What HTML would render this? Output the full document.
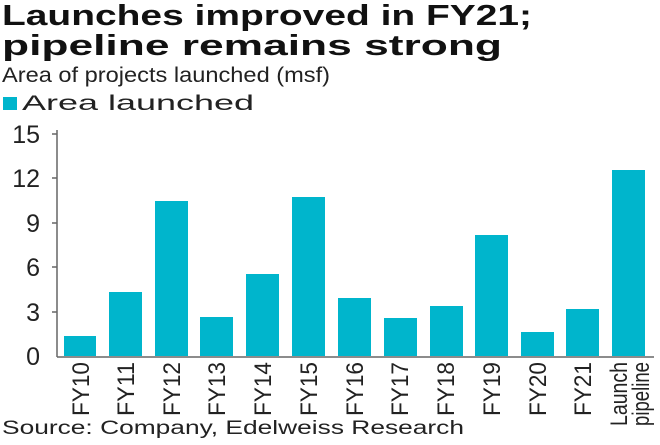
<!DOCTYPE html><html><head><style>
body{margin:0;background:#fff;width:660px;height:440px;overflow:hidden;font-family:"Liberation Sans",sans-serif;}
</style></head><body>
<svg width="660" height="440" xmlns="http://www.w3.org/2000/svg" font-family="Liberation Sans, sans-serif">
<text x="2" y="25" font-size="29" font-weight="bold" fill="#111" textLength="530" lengthAdjust="spacingAndGlyphs">Launches improved in FY21;</text>
<text x="2" y="55" font-size="29" font-weight="bold" fill="#111" textLength="500" lengthAdjust="spacingAndGlyphs">pipeline remains strong</text>
<text x="2" y="82" font-size="21" fill="#222" textLength="328" lengthAdjust="spacingAndGlyphs">Area of projects launched (msf)</text>
<rect x="3" y="97" width="14" height="13" fill="#00b5cc"/>
<text x="22" y="110" font-size="21" fill="#222" textLength="232" lengthAdjust="spacingAndGlyphs">Area launched</text>
<g font-size="25" fill="#222" text-anchor="end">
<text x="40" y="143">15</text><text x="40" y="187">12</text><text x="40" y="232">9</text>
<text x="40" y="276">6</text><text x="40" y="321">3</text><text x="40" y="365">0</text></g>
<g stroke="#666" stroke-width="1.5">
<line x1="57" y1="130" x2="57" y2="357"/><line x1="57" y1="357" x2="654" y2="357"/>
<line x1="52" y1="134" x2="57" y2="134"/><line x1="52" y1="178" x2="57" y2="178"/><line x1="52" y1="223" x2="57" y2="223"/>
<line x1="52" y1="267" x2="57" y2="267"/><line x1="52" y1="312" x2="57" y2="312"/>
</g>
<g fill="#00b5cc">
<rect x="64" y="336" width="32" height="20"/><rect x="109" y="292" width="33" height="64"/>
<rect x="155" y="201" width="33" height="155"/><rect x="200" y="317" width="33" height="39"/>
<rect x="246" y="274" width="33" height="82"/><rect x="292" y="197" width="33" height="159"/>
<rect x="338" y="298" width="33" height="58"/><rect x="384" y="318" width="33" height="38"/>
<rect x="430" y="306" width="33" height="50"/><rect x="475" y="235" width="33" height="121"/>
<rect x="521" y="332" width="33" height="24"/><rect x="566" y="309" width="33" height="47"/>
<rect x="612" y="170" width="33" height="186"/>
</g>
<g font-size="24" fill="#222" text-anchor="end">
<text transform="translate(89,362) rotate(-90)" textLength="54" lengthAdjust="spacingAndGlyphs">FY10</text>
<text transform="translate(134,362) rotate(-90)" textLength="54" lengthAdjust="spacingAndGlyphs">FY11</text>
<text transform="translate(180,362) rotate(-90)" textLength="54" lengthAdjust="spacingAndGlyphs">FY12</text>
<text transform="translate(225,362) rotate(-90)" textLength="54" lengthAdjust="spacingAndGlyphs">FY13</text>
<text transform="translate(271,362) rotate(-90)" textLength="54" lengthAdjust="spacingAndGlyphs">FY14</text>
<text transform="translate(317,362) rotate(-90)" textLength="54" lengthAdjust="spacingAndGlyphs">FY15</text>
<text transform="translate(363,362) rotate(-90)" textLength="54" lengthAdjust="spacingAndGlyphs">FY16</text>
<text transform="translate(408,362) rotate(-90)" textLength="54" lengthAdjust="spacingAndGlyphs">FY17</text>
<text transform="translate(454,362) rotate(-90)" textLength="54" lengthAdjust="spacingAndGlyphs">FY18</text>
<text transform="translate(500,362) rotate(-90)" textLength="54" lengthAdjust="spacingAndGlyphs">FY19</text>
<text transform="translate(546,362) rotate(-90)" textLength="54" lengthAdjust="spacingAndGlyphs">FY20</text>
<text transform="translate(591,362) rotate(-90)" textLength="54" lengthAdjust="spacingAndGlyphs">FY21</text>
<text transform="translate(627,362) rotate(-90)" textLength="64" lengthAdjust="spacingAndGlyphs">Launch</text>
<text transform="translate(649,362) rotate(-90)" textLength="64" lengthAdjust="spacingAndGlyphs">pipeline</text>
</g>
<text x="2" y="434" font-size="19" fill="#222" textLength="462" lengthAdjust="spacingAndGlyphs">Source: Company, Edelweiss Research</text>
</svg>
</body></html>
